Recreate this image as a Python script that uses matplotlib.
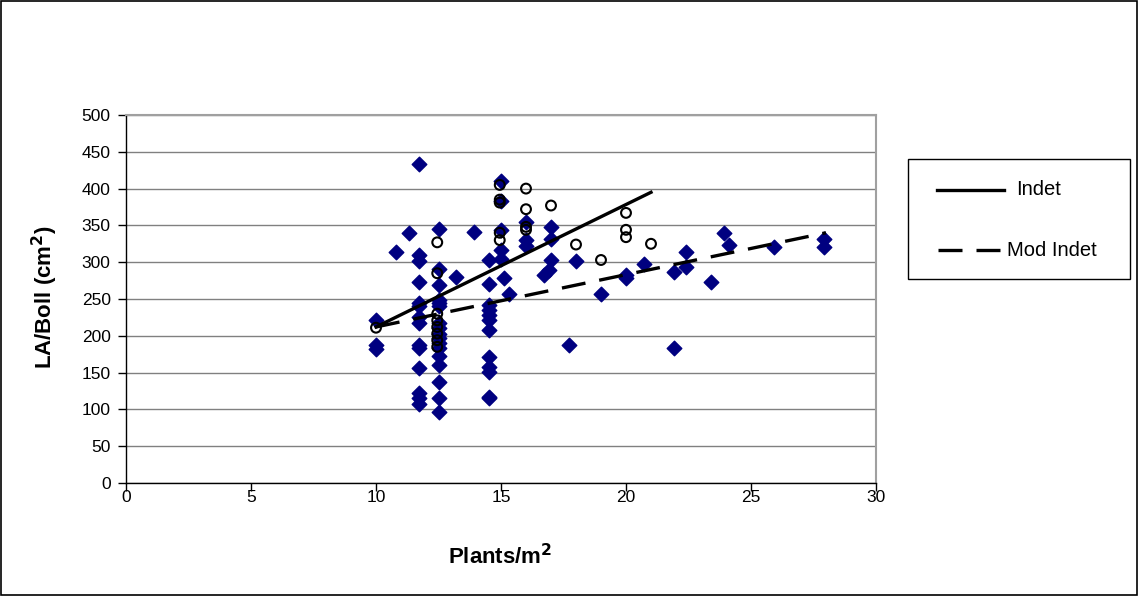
import matplotlib.pyplot as plt
from matplotlib.patches import Rectangle
from matplotlib.lines import Line2D

plt.rcParams['font.family'] = ['Liberation Sans', 'DejaVu Sans']

# Mod Indet (filled diamonds)
mod_x = [10, 10, 10, 10.8, 11.3,
         11.7, 11.7, 11.7, 11.7, 11.7, 11.7, 11.7, 11.7, 11.7, 11.7, 11.7, 11.7, 11.7, 11.7,
         12.5, 12.5, 12.5, 12.5, 12.5, 12.5, 12.5, 12.5, 12.5, 12.5, 12.5, 12.5, 12.5, 12.5, 12.5, 12.5, 12.5,
         13.2, 13.9,
         14.5, 14.5, 14.5, 14.5, 14.5, 14.5, 14.5, 14.5, 14.5, 14.5, 14.5, 14.5,
         15, 15, 15, 15, 15, 15.1, 15.3,
         16, 16, 16, 17, 17, 17, 16.9, 16.7,
         18, 17.7, 19, 20, 20, 20.7, 21.9, 21.9, 22.4, 22.4, 23.4, 23.9, 24.1, 25.9, 27.9, 27.9]
mod_y = [221, 187, 182, 314, 340,
         433, 310, 302, 273, 244, 240, 226, 217, 187, 183, 156, 122, 115, 108,
         345, 291, 269, 249, 244, 241, 217, 210, 203, 197, 190, 183, 172, 160, 137, 115, 96,
         280, 341,
         303, 271, 242, 235, 228, 221, 208, 171, 158, 151, 117, 115,
         410, 383, 344, 317, 304, 279, 257,
         355, 330, 322, 348, 331, 303, 290, 283,
         302, 187, 257, 282, 279, 298, 287, 183, 314, 294, 273, 340, 324, 321, 332, 320]

# Indet (open circles)
ind_x = [10, 12.45, 12.45, 12.45, 12.45, 12.45, 12.45, 12.45, 12.45,
         14.95, 14.95, 14.95, 14.95, 14.95, 16, 16, 16, 16, 17, 18, 19, 20, 20, 20, 21]
ind_y = [211, 327, 285, 230, 221, 212, 203, 194, 185,
         405, 385, 381, 340, 330, 400, 372, 348, 344, 377, 324, 303, 367, 344, 334, 325]

# trend lines
ind_fit_x = [10, 21]
ind_fit_y = [212, 395]
mod_fit_x = [10, 28]
mod_fit_y = [212, 340]

x_ticks = [0, 5, 10, 15, 20, 25, 30]
y_ticks = [0, 50, 100, 150, 200, 250, 300, 350, 400, 450, 500]
legend_labels = ['Indet', 'Mod Indet']

W, H = 1139, 596
LW = 2.4
DASH = (7.2, 4.2)

fig = plt.figure(figsize=(W / 100, H / 100), dpi=100)
fig.patch.set_facecolor('white')
fig.patches.append(Rectangle((0.001, 0.002), 0.997, 0.996, transform=fig.transFigure,
                             fill=False, edgecolor='black', linewidth=1.2))

ax = fig.add_axes([126 / W, 1 - 483 / H, 750 / W, 368 / H])
ax.set_xlim(0, 30)
ax.set_ylim(0, 500)
ax.set_xticks(x_ticks)
ax.set_yticks(y_ticks)
ax.yaxis.grid(True, color='#808080', linewidth=1)
ax.set_axisbelow(True)

for s in ['top', 'right']:
    ax.spines[s].set_color('#a0a0a0')
    ax.spines[s].set_linewidth(1.5)
for s in ['left', 'bottom']:
    ax.spines[s].set_color('black')
    ax.spines[s].set_linewidth(1)
ax.tick_params(direction='out', length=6, width=1, labelsize=12.5, colors='black')
ax.tick_params(axis='x', pad=-1)
ax.tick_params(axis='y', pad=5)

ax.scatter(mod_x, mod_y, marker='D', s=55, color='#000080', edgecolors='#000080', zorder=3)
ax.scatter(ind_x, ind_y, marker='o', s=50, facecolors='none', edgecolors='black',
           linewidths=1.5, zorder=4)

ax.plot(ind_fit_x, ind_fit_y, color='black', linewidth=LW, zorder=5)
ax.plot(mod_fit_x, mod_fit_y, color='black', linewidth=LW, dashes=DASH, zorder=5)

fig.text(500 / W, 1 - 557 / H, 'Plants/m$^\\mathbf{2}$', fontsize=16, fontweight='bold',
         ha='center', va='center')
fig.text(45 / W, 1 - 297 / H, 'LA/Boll (cm$^\\mathbf{2}$)', fontsize=16, fontweight='bold',
         ha='center', va='center', rotation=90)

# legend box drawn by hand to sit where the original one is
fig.patches.append(Rectangle((908 / W, 1 - 279 / H), 222 / W, 120 / H, transform=fig.transFigure,
                             fill=False, edgecolor='black', linewidth=1))
fig.lines.append(Line2D([937 / W, 1004 / W], [1 - 190 / H] * 2, transform=fig.transFigure,
                        color='black', linewidth=LW))
fig.lines.append(Line2D([938 / W, 1003 / W], [1 - 250 / H] * 2, transform=fig.transFigure,
                        color='black', linewidth=LW, dashes=DASH))
fig.text(1016 / W, 1 - 190 / H, legend_labels[0], fontsize=14.5, ha='left', va='center')
fig.text(1007 / W, 1 - 250 / H, legend_labels[1], fontsize=14.5, ha='left', va='center')

fig.savefig('out.png', dpi=100, facecolor='white')
